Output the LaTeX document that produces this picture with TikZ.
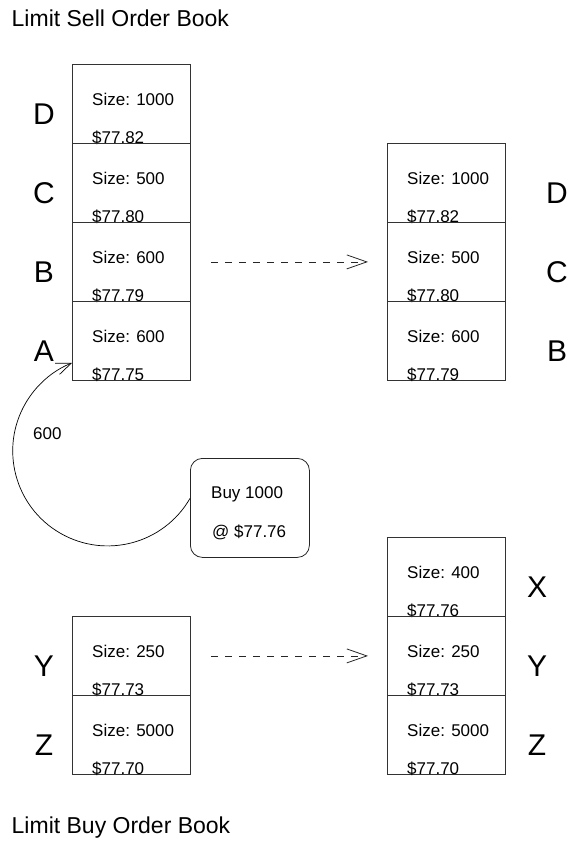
\documentclass[tikz,border=0pt]{standalone}
\usepackage{fontspec}
\setmainfont{Liberation Sans}
\usetikzlibrary{arrows.meta,calc}
\newcommand\orderbox[5]{%
  \node[book] (#1) at (#2,#3) {};
  \node[small] (#1s) at ($(#1.north west)+(20,-41)$) {Size: #4};
  \node[small] (#1p) at ($(#1.south west)+(20,0)$) {\$#5};}
\begin{document}
\begin{tikzpicture}[x=1bp,y=1bp,
  book/.style={draw=black!80,line width=0.8bp,minimum width=118bp,minimum height=79bp,inner sep=0pt,anchor=north west},
  small/.style={font=\fontsize{17bp}{20bp}\selectfont,inner sep=0pt,anchor=base west},
  letter/.style={font=\fontsize{30bp}{36bp}\selectfont,inner sep=0pt,anchor=base},
  booktitle/.style={font=\fontsize{23bp}{28bp}\selectfont,inner sep=0pt,anchor=base west},
  flow/.style={draw=black!85,line width=0.8bp,dash pattern=on 7bp off 7bp,-{Straight Barb[length=20bp,width=14bp]},shorten <=20bp,shorten >=19bp},
  fill/.style={draw=black,line width=0.7bp,-{Straight Barb[length=15bp,width=12bp]}},
  order/.style={draw=black!85,line width=0.8bp,rounded corners=12bp,minimum width=119bp,minimum height=99bp,inner sep=0pt,anchor=north west}]
\path[use as bounding box] (0,0) rectangle (571,-841);
% titles
\node[booktitle] (selltitle) at (11.5,-26) {Limit Sell Order Book};
\node[booktitle] (buytitle) at (11.5,-833) {Limit Buy Order Book};
% left sell book
\orderbox{lD}{72}{-64}{1000}{77.82}
\orderbox{lC}{72}{-143}{500}{77.80}
\orderbox{lB}{72}{-222}{600}{77.79}
\orderbox{lA}{72}{-301}{600}{77.75}
\node[letter] (tD) at (44,-124) {D};
\node[letter] (tC) at (44,-203) {C};
\node[letter] (tB) at (44,-282) {B};
\node[letter] (tA) at (44,-361) {A};
% right sell book
\orderbox{rD}{387}{-143}{1000}{77.82}
\orderbox{rC}{387}{-222}{500}{77.80}
\orderbox{rB}{387}{-301}{600}{77.79}
\node[letter] (uD) at (557,-203) {D};
\node[letter] (uC) at (557,-282) {C};
\node[letter] (uB) at (557,-361) {B};
% left buy book
\orderbox{lY}{72}{-616}{250}{77.73}
\orderbox{lZ}{72}{-695}{5000}{77.70}
\node[letter] (tY) at (44,-676) {Y};
\node[letter] (tZ) at (44,-755) {Z};
% right buy book
\orderbox{rX}{387}{-537}{400}{77.76}
\orderbox{rY}{387}{-616}{250}{77.73}
\orderbox{rZ}{387}{-695}{5000}{77.70}
\node[letter] (uX) at (537,-597) {X};
\node[letter] (uY) at (537,-676) {Y};
\node[letter] (uZ) at (537,-755) {Z};
% transitions
\draw[flow] (lB.east) -- (rC.west);
\draw[flow] (lY.east) -- (rY.west);
% incoming order
\node[order] (buy) at (190,-458) {};
\node[small] (buyq) at ($(buy.north west)+(21,-40)$) {Buy 1000};
\node[small] (buyp) at ($(buy.north west)+(22,-79)$) {@ \$77.76};
\draw[fill] ([yshift=9.5bp]buy.west) arc[start angle=-30,end angle=-248,radius=95bp];
\node[small] (qty) at (33,-439) {600};
\end{tikzpicture}
\end{document}
